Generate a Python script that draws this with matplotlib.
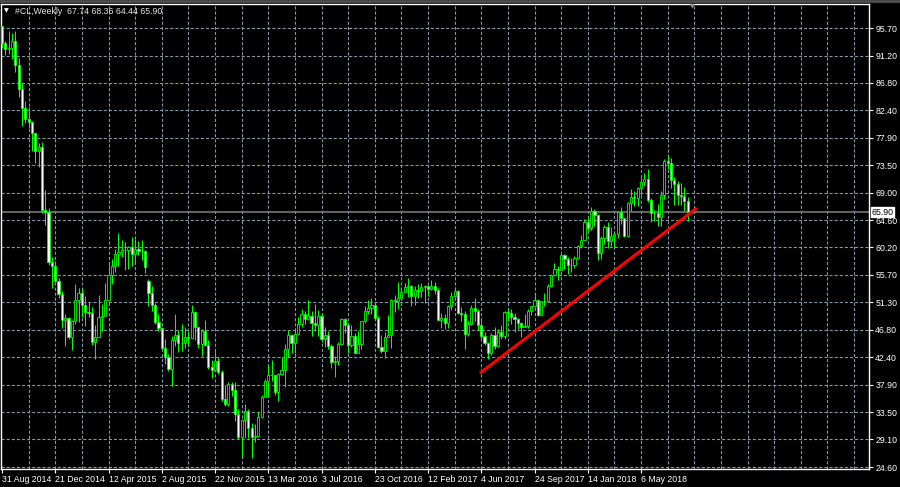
import matplotlib
matplotlib.use("Agg")
import matplotlib.pyplot as plt
import matplotlib.transforms as mtransforms
import numpy as np

# weekly #CL bars, 31 Aug 2014 .. 12 Aug 2018
opens = [
    95.96, 93.29, 92.27, 92.41, 93.54, 89.74, 85.82, 82.75, 81.01, 80.54, 78.65, 75.82, 76.51, 66.15, 65.84, 57.81, 57.13, 54.73,
    52.69, 48.36, 48.69, 45.59, 48.24, 51.69, 52.78, 50.81, 49.76, 49.61, 44.84, 45.72, 48.87, 49.14, 51.64, 55.74, 57.15, 59.15,
    59.39, 59.69, 59.72, 60.30, 59.13, 59.96, 59.61, 59.63, 54.80, 52.74, 50.89, 48.14, 47.12, 43.87, 42.50, 40.45, 45.22, 46.05,
    44.63, 44.68, 45.70, 45.54, 49.63, 47.26, 44.60, 46.59, 44.29, 40.74, 40.39, 41.71, 39.97, 35.62, 34.73, 38.10,
    37.04, 33.16, 29.42, 32.19, 33.62, 30.89, 29.44, 29.64, 32.78, 35.92, 38.50, 39.44, 39.46, 36.79, 39.72, 40.36, 43.73, 45.92,
    44.66, 46.21, 47.75, 49.33, 48.62, 49.07, 47.98, 47.64, 48.99, 45.41, 45.95, 44.19, 41.60, 41.80, 44.49, 48.52, 47.64, 44.44,
    45.88, 43.03, 44.48, 48.24, 49.81, 50.35, 50.85, 48.70, 44.07, 43.41, 45.69, 46.06, 51.68, 51.50, 51.90, 53.02,
    53.72, 53.99, 52.37, 53.22, 53.17, 53.83, 53.86, 53.40, 53.99, 53.33, 48.49, 48.78, 47.97, 50.60, 52.24, 53.18, 49.62, 49.33,
    46.22, 47.84, 50.33, 49.80, 47.66, 45.83, 44.74, 43.01, 46.04, 44.23, 46.54, 45.77, 49.71, 49.58, 48.82, 48.51, 47.87, 47.29,
    47.48, 49.89, 50.66, 51.67, 49.29, 51.45, 51.47, 53.90, 55.64, 56.74, 56.55, 58.95, 58.36, 57.36, 57.30, 58.47,
    60.42, 61.44, 64.30, 63.37, 66.14, 65.45, 59.20, 61.68, 63.55, 61.25, 62.04, 62.34, 65.88, 64.94, 62.06, 67.39, 68.38, 68.10,
    69.72, 70.70, 71.28, 67.88, 65.81, 65.74, 65.06, 68.58, 74.15, 73.80, 71.01, 70.46, 68.69, 68.49, 67.74,
]
highs = [
    96.00, 93.55, 95.25, 94.92, 95.17, 90.78, 86.84, 83.93, 82.91, 80.67, 78.73, 77.00, 77.22, 69.45, 66.47, 58.55, 57.97, 55.26,
    53.03, 49.31, 48.90, 48.48, 54.24, 53.66, 53.64, 52.30, 51.28, 50.57, 47.55, 52.48, 50.97, 54.45, 57.42, 58.34, 59.90, 62.58,
    61.39, 61.04, 60.45, 61.79, 61.58, 61.27, 61.44, 59.76, 54.99, 53.84, 51.13, 49.43, 47.32, 45.35, 42.85, 45.87, 49.32, 46.80,
    47.71, 47.30, 46.57, 50.92, 49.92, 47.30, 46.99, 48.36, 45.24, 42.00, 43.46, 42.34, 40.24, 37.95, 38.37, 38.39,
    38.39, 34.00, 32.35, 34.82, 34.00, 31.79, 31.53, 33.59, 36.25, 38.82, 41.20, 41.90, 39.57, 39.79, 42.42, 44.49, 46.78, 46.20,
    47.05, 48.90, 50.21, 49.79, 51.67, 49.79, 51.00, 49.99, 49.62, 47.26, 46.70, 44.50, 42.55, 44.81, 48.75, 48.72, 47.95, 47.62,
    46.35, 46.55, 48.30, 50.74, 51.60, 51.93, 51.34, 48.98, 46.06, 46.42, 49.20, 51.83, 52.42, 54.51, 53.48, 54.33,
    55.24, 54.09, 53.87, 54.24, 54.48, 54.09, 54.04, 54.94, 54.63, 53.66, 49.54, 49.35, 50.85, 52.94, 53.76, 53.32, 50.47, 49.94,
    48.26, 50.83, 52.00, 50.22, 48.50, 46.45, 44.91, 46.34, 47.32, 47.00, 47.67, 49.81, 50.43, 50.22, 49.57, 48.80, 48.08, 49.42,
    50.18, 50.67, 52.86, 51.67, 51.55, 52.84, 54.20, 55.80, 57.69, 57.20, 59.05, 59.05, 58.60, 58.53, 58.70, 60.51,
    62.21, 64.77, 64.89, 66.66, 66.35, 65.55, 61.96, 63.73, 64.24, 63.54, 62.60, 66.13, 66.66, 65.01, 67.54, 69.56, 69.26, 69.97,
    71.89, 72.30, 72.83, 68.25, 66.27, 67.12, 69.33, 74.46, 75.10, 74.70, 71.60, 70.86, 70.65, 69.88, 68.36,
]
lows = [
    92.50, 91.40, 91.56, 90.72, 88.53, 84.47, 79.78, 80.29, 79.44, 75.84, 73.81, 73.25, 65.69, 63.72, 57.35, 53.60, 54.51, 52.03,
    47.15, 44.20, 45.30, 43.58, 47.84, 48.01, 48.83, 47.48, 48.86, 44.37, 42.03, 45.60, 46.70, 49.02, 51.52, 54.21, 56.17, 57.16,
    58.55, 56.51, 56.60, 57.10, 57.65, 58.93, 58.08, 56.02, 50.60, 49.91, 47.72, 46.68, 43.85, 41.35, 40.21, 37.75, 44.12, 43.21,
    43.31, 43.80, 44.20, 45.49, 45.24, 43.90, 42.58, 44.15, 40.55, 38.99, 40.12, 39.59, 35.33, 34.53, 34.51, 36.04,
    32.10, 29.13, 26.19, 29.25, 29.25, 26.05, 28.70, 29.54, 32.53, 35.88, 36.00, 38.52, 36.33, 35.24, 39.50, 37.61, 42.36, 43.03,
    43.05, 46.12, 47.27, 47.80, 48.40, 45.83, 46.69, 45.83, 44.77, 44.07, 43.76, 40.57, 39.19, 41.11, 44.40, 46.25, 43.00, 44.03,
    42.96, 42.99, 43.70, 47.99, 49.42, 49.45, 48.44, 43.95, 43.03, 42.20, 45.60, 43.95, 49.75, 50.27, 51.60, 52.98,
    52.11, 50.71, 50.91, 51.92, 52.20, 51.22, 52.33, 53.25, 52.58, 48.34, 47.09, 47.01, 47.10, 50.11, 52.09, 49.42, 48.18, 43.76,
    45.78, 47.65, 48.18, 46.85, 45.20, 44.35, 42.05, 42.79, 43.76, 44.03, 45.40, 45.40, 48.27, 47.83, 46.46, 47.00, 45.58, 47.20,
    47.12, 49.30, 50.50, 49.10, 49.21, 50.71, 51.37, 53.70, 55.47, 54.86, 56.47, 56.75, 55.82, 56.12, 56.82, 58.29,
    60.10, 61.30, 62.80, 62.97, 63.67, 58.07, 58.24, 60.76, 60.14, 60.45, 60.23, 61.75, 63.88, 61.84, 61.81, 66.03, 66.90, 66.84,
    68.59, 70.27, 67.56, 64.22, 64.43, 63.60, 63.59, 67.97, 72.88, 69.78, 67.03, 67.06, 67.06, 66.04, 64.44,
]
closes = [
    93.29, 92.27, 92.41, 93.54, 89.74, 85.82, 82.75, 81.01, 80.54, 78.65, 75.82, 76.51, 66.15, 65.84, 57.81, 57.13, 54.73, 52.69,
    48.36, 48.69, 45.59, 48.24, 51.69, 52.78, 50.81, 49.76, 49.61, 44.84, 45.72, 48.87, 49.14, 51.64, 55.74, 57.15, 59.15, 59.39,
    59.69, 59.72, 60.30, 59.13, 59.96, 59.61, 59.63, 56.93, 52.74, 50.89, 48.14, 47.12, 43.87, 42.50, 40.45, 45.22, 46.05, 44.63,
    44.68, 45.70, 45.54, 49.63, 47.26, 44.60, 46.59, 44.29, 40.74, 40.39, 41.71, 39.97, 35.62, 34.73, 38.10, 37.04,
    33.16, 29.42, 32.19, 33.62, 30.89, 29.44, 29.64, 32.78, 35.92, 38.50, 39.44, 39.46, 36.79, 39.72, 40.36, 43.73, 45.92, 44.66,
    46.21, 47.75, 49.33, 48.62, 49.07, 47.98, 47.64, 48.99, 45.41, 45.95, 44.19, 41.60, 41.80, 44.49, 48.52, 47.64, 44.44, 45.88,
    43.03, 44.48, 48.24, 49.81, 50.35, 50.85, 48.70, 44.07, 43.41, 45.69, 46.06, 51.68, 51.50, 51.90, 53.02, 53.72,
    53.99, 52.37, 53.22, 53.17, 53.83, 53.86, 53.40, 53.99, 53.33, 48.49, 48.78, 47.97, 50.60, 52.24, 53.18, 49.62, 49.33, 46.22,
    47.84, 50.33, 49.80, 47.66, 45.83, 44.74, 43.01, 46.04, 44.23, 46.54, 45.77, 49.71, 49.58, 48.82, 48.51, 47.87, 47.29, 47.48,
    49.89, 50.66, 51.67, 49.29, 51.45, 51.47, 53.90, 55.64, 56.74, 56.55, 58.95, 58.36, 57.36, 57.30, 58.47, 60.42,
    61.44, 64.30, 63.37, 66.14, 65.45, 59.20, 61.68, 63.55, 61.25, 62.04, 62.34, 65.88, 64.94, 62.06, 67.39, 68.38, 68.10, 69.72,
    70.70, 71.28, 67.88, 65.81, 65.74, 65.06, 68.58, 74.15, 73.80, 71.01, 70.46, 68.69, 68.49, 67.63, 65.90,
]
assert len(opens) == len(highs) == len(lows) == len(closes) == 207

date_labels = ["31 Aug 2014", "21 Dec 2014", "12 Apr 2015", "2 Aug 2015", "22 Nov 2015",
               "13 Mar 2016", "3 Jul 2016", "23 Oct 2016", "12 Feb 2017", "4 Jun 2017",
               "24 Sep 2017", "14 Jan 2018", "6 May 2018"]
date_bars = [0, 16, 32, 48, 64, 80, 96, 112, 128, 144, 160, 176, 192]
price_ticks = [95.70, 91.20, 86.80, 82.40, 77.90, 73.50, 69.00, 64.60, 60.20,
               55.70, 51.30, 46.80, 42.40, 37.90, 33.50, 29.10, 24.60]

# hand drawn trend line (bar index, price)
trend_bars = [143.6, 208.8]
trend_prices = [39.8, 66.55]

GREEN = "#00ff00"
GRID = "#8496a8"
FONT = "Liberation Sans"

o = np.array(opens)
h = np.array(highs)
l = np.array(lows)
c = np.array(closes)
x = np.arange(len(c))

fig = plt.figure(figsize=(9, 4.87), dpi=100, facecolor="black")
ax = fig.add_axes([1 / 900, 1 - 469 / 487, 868 / 900, 465 / 487])
ax.set_facecolor("black")
ax.set_xlim(-0.3, 260.5)
ax.set_ylim(24.28, 99.59)

# dashed grid
for gx in range(8, 260, 8):
    ax.axvline(gx, color=GRID, lw=0.8, ls=(0, (2.8, 1.8)), zorder=0)
for gy in price_ticks:
    ax.axhline(gy, color=GRID, lw=0.8, ls=(0, (2.8, 1.8)), zorder=0)

# last price line
ax.axhline(c[-1], color="#808080", lw=1.1, zorder=1)

# candles
ax.vlines(x, l, h, color=GREEN, lw=0.75, zorder=2)
bull = c >= o
bear = ~bull
ax.bar(x[bull], c[bull] - o[bull], bottom=o[bull], width=0.66,
       facecolor="black", edgecolor=GREEN, linewidth=0.6, zorder=3)
ax.bar(x[bear], o[bear] - c[bear], bottom=c[bear], width=0.66,
       facecolor="white", edgecolor=GREEN, linewidth=0.6, zorder=3)

# trend line
ax.plot(trend_bars, trend_prices, color="#ff0000", lw=2.2, solid_capstyle="butt", zorder=4)

for s in ax.spines.values():
    s.set_color("white")
    s.set_linewidth(1)

ax.set_xticks(date_bars)
ax.set_xticklabels(date_labels, fontsize=6.3, family=FONT, color="white")
for lbl in ax.get_xticklabels():
    lbl.set_horizontalalignment("left")
ax.tick_params(axis="x", colors="white", length=3, width=0.8, pad=1.5)

ax.yaxis.tick_right()
ax.set_yticks(price_ticks)
ax.set_yticklabels([f"{v:.2f}" for v in price_ticks], fontsize=6.3, family=FONT, color="white")
ax.tick_params(axis="y", colors="white", length=3, width=0.8, pad=1.5)

# current price box
trans = mtransforms.blended_transform_factory(ax.transAxes, ax.transData)
ax.text(1.003, c[-1], f"{c[-1]:.2f}", transform=trans, ha="left", va="center",
        fontsize=6.3, family=FONT, color="black", zorder=10, clip_on=False,
        bbox=dict(boxstyle="square,pad=0.1", fc="white", ec="white"))

# header
fig.add_artist(plt.Line2D([0, 1], [1 - 1 / 487, 1 - 1 / 487], color="#505050", lw=2))
fig.text(4 / 900, 1 - 11 / 487, "\u25bc", fontsize=4.5, color="white", va="center", family="DejaVu Sans")
fig.text(15 / 900, 1 - 11 / 487,
         f"#CL,Weekly  {opens[-1]:.2f} {highs[-1]:.2f} {lows[-1]:.2f} {closes[-1]:.2f}",
         fontsize=6.3, family=FONT, color="#e8e8e8", va="center")
fig.text(690 / 900, 1 - 7 / 487, "\u25bc", fontsize=4.5, color="#909090", va="center", family="DejaVu Sans")

fig.savefig("out.png", dpi=100, facecolor="black")
